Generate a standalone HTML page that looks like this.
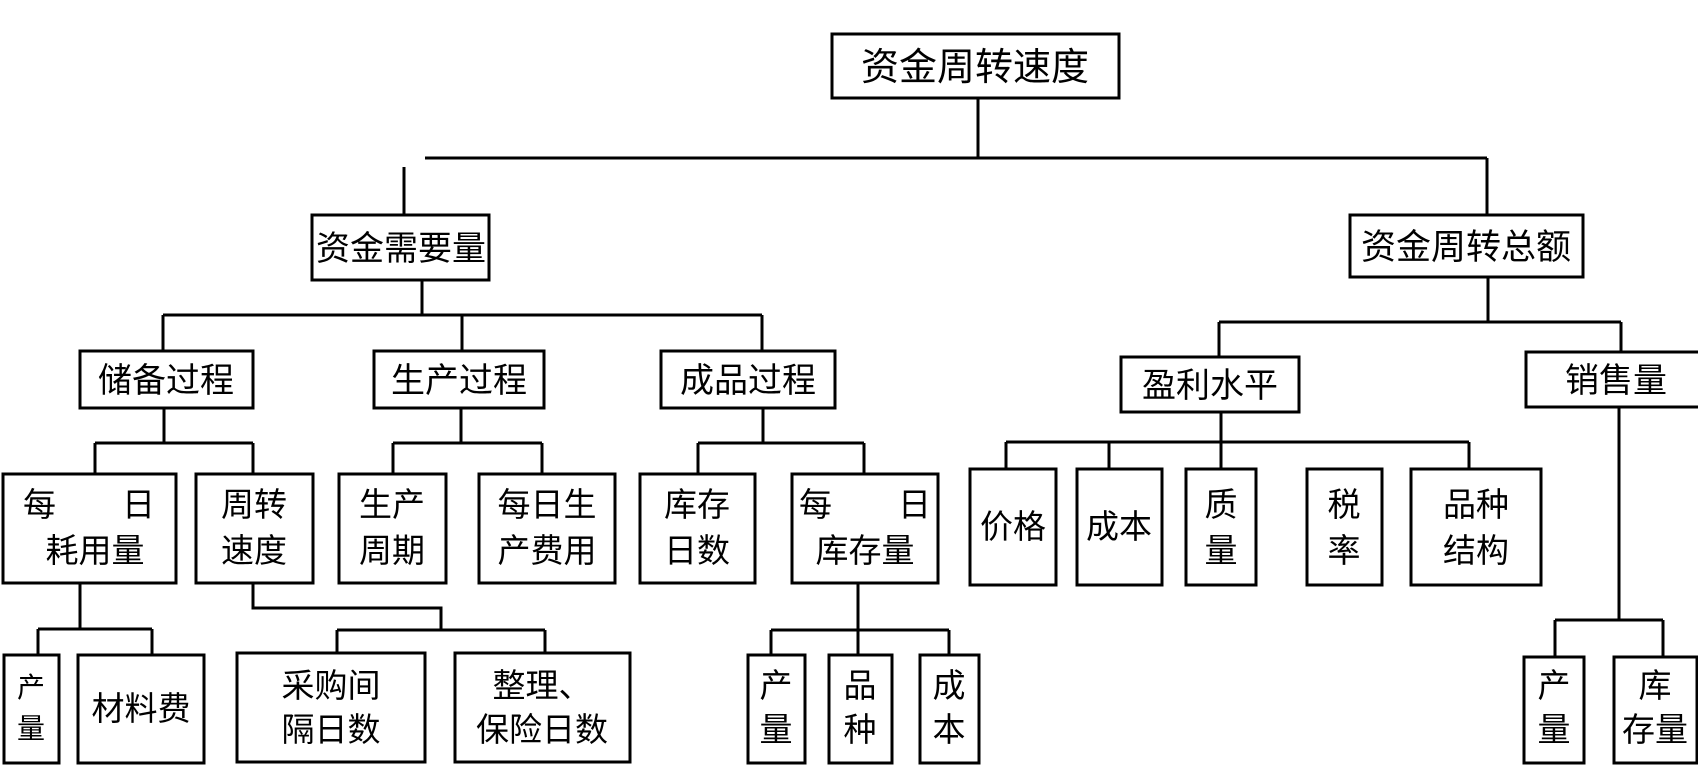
<!DOCTYPE html>
<html><head><meta charset="utf-8"><style>
html,body{margin:0;padding:0;background:#fff;}
svg{display:block}
text{font-family:"Liberation Sans","Noto Sans CJK SC","WenQuanYi Zen Hei",sans-serif;fill:#000;text-anchor:middle;}
</style></head><body>
<svg width="1698" height="784" viewBox="0 0 1698 784" xmlns="http://www.w3.org/2000/svg">
<g fill="none" stroke="#000" stroke-width="3">
<rect x="832" y="34" width="287" height="64"/>
<rect x="312" y="215" width="177" height="65"/>
<rect x="1350" y="215" width="233" height="62"/>
<rect x="80" y="351" width="173" height="57"/>
<rect x="374" y="351" width="170" height="57"/>
<rect x="661" y="351" width="174" height="57"/>
<rect x="1121" y="357" width="178" height="55"/>
<rect x="1526" y="352" width="180" height="55"/>
<rect x="3" y="474" width="173" height="109"/>
<rect x="196" y="474" width="117" height="109"/>
<rect x="339" y="474" width="107" height="109"/>
<rect x="479" y="474" width="136" height="109"/>
<rect x="640" y="474" width="115" height="109"/>
<rect x="792" y="474" width="146" height="109"/>
<rect x="970" y="469" width="86" height="116"/>
<rect x="1077" y="469" width="85" height="116"/>
<rect x="1186" y="469" width="70" height="116"/>
<rect x="1307" y="469" width="75" height="116"/>
<rect x="1411" y="469" width="130" height="116"/>
<rect x="4" y="655" width="55" height="108"/>
<rect x="78" y="655" width="126" height="108"/>
<rect x="237" y="653" width="188" height="109"/>
<rect x="455" y="653" width="175" height="109"/>
<rect x="748" y="655" width="57" height="108"/>
<rect x="829" y="655" width="63" height="108"/>
<rect x="920" y="655" width="59" height="108"/>
<rect x="1524" y="657" width="60" height="106"/>
<rect x="1614" y="657" width="83" height="106"/>
<path d="M978 98V158M425 158H1487M404 167V215M1487 158V215"/>
<path d="M422 280V315M163 315H762M163 315V351M462 315V351M762 315V351"/>
<path d="M1488 277V322M1219 322H1621M1219 322V357M1621 322V352"/>
<path d="M164 408V443M95 443H253M95 443V474M253 443V474"/>
<path d="M461 408V443M393 443H542M393 443V474M542 443V474"/>
<path d="M763 408V443M698 443H864M698 443V474M864 443V474"/>
<path d="M1221 412V469M1006 442H1469M1006 442V469M1109 442V469M1469 442V469"/>
<path d="M80 583V629M38 629H152M38 629V655M152 629V655"/>
<path d="M253 583V608H441V630M337 630H545M337 630V653M545 630V653"/>
<path d="M858 583V630M771 630H949M771 630V655M858 630V655M949 630V655"/>
<path d="M1619 407V620M1555 620H1663M1555 620V657M1663 620V657"/>
</g>
<g font-size="38">
<text x="975" y="80">资金周转速度</text>
<text x="401" y="260" font-size="34">资金需要量</text>
<text x="1466" y="259" font-size="35">资金周转总额</text>
</g>
<g font-size="34">
<text x="166" y="392">储备过程</text>
<text x="459" y="392">生产过程</text>
<text x="748" y="392">成品过程</text>
<text x="1210" y="397">盈利水平</text>
<text x="1616" y="392">销售量</text>
</g>
<g font-size="33">
<text x="89" y="516">每　　日</text><text x="95" y="562">耗用量</text>
<text x="254" y="516">周转</text><text x="254" y="562">速度</text>
<text x="392" y="516">生产</text><text x="392" y="562">周期</text>
<text x="547" y="516">每日生</text><text x="547" y="562">产费用</text>
<text x="697" y="516">库存</text><text x="697" y="562">日数</text>
<text x="865" y="516">每　　日</text><text x="865" y="562">库存量</text>
<text x="1013" y="538">价格</text>
<text x="1119" y="538">成本</text>
<text x="1221" y="516">质</text><text x="1221" y="562">量</text>
<text x="1344" y="516">税</text><text x="1344" y="562">率</text>
<text x="1476" y="516">品种</text><text x="1476" y="562">结构</text>
<text x="31" y="697" font-size="28">产</text><text x="31" y="738" font-size="28">量</text>
<text x="141" y="720">材料费</text>
<text x="331" y="697">采购间</text><text x="331" y="741">隔日数</text>
<text x="542" y="697">整理、</text><text x="542" y="741">保险日数</text>
<text x="776" y="697">产</text><text x="776" y="741">量</text>
<text x="860" y="697">品</text><text x="860" y="741">种</text>
<text x="949" y="697">成</text><text x="949" y="741">本</text>
<text x="1554" y="697">产</text><text x="1554" y="741">量</text>
<text x="1655" y="697">库</text><text x="1655" y="741">存量</text>
</g>
</svg>
</body></html>
